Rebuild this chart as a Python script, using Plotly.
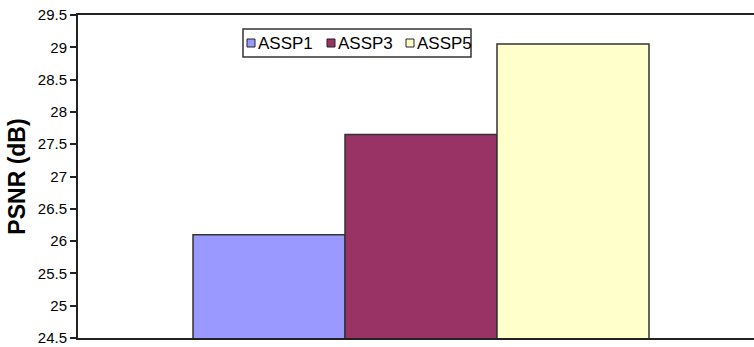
import plotly.graph_objects as go

# PSNR of each ASSP variant
series = ["ASSP1", "ASSP3", "ASSP5"]
psnr_db = [26.1, 27.65, 29.05]
colors = ["#9999FF", "#993366", "#FFFFCC"]
category = [""]

y_ticks = [24.5, 25, 25.5, 26, 26.5, 27, 27.5, 28, 28.5, 29, 29.5]

# plot-area geometry in pixels (used to place the key box)
W, H = 754, 347
L, T, B = 78, 15, 9
PW, PH = W - L, H - T - B


def px(x):
    return (x - L) / PW


def py(y):
    return (H - B - y) / PH


fig = go.Figure()
for name, val, col in zip(series, psnr_db, colors):
    fig.add_trace(go.Bar(
        x=category, y=[val], name=name, showlegend=False,
        marker=dict(color=col, line=dict(color="#333333", width=1.5)),
    ))

# key box with small square swatches
key_x = [247, 327, 406]
shapes = [dict(type="rect", xref="paper", yref="paper",
               x0=px(243), x1=px(471), y0=py(57), y1=py(29),
               line=dict(color="#333333", width=1.5), fillcolor="white")]
annotations = []
for name, col, kx in zip(series, colors, key_x):
    shapes.append(dict(type="rect", xref="paper", yref="paper",
                       x0=px(kx), x1=px(kx + 8), y0=py(47), y1=py(39),
                       line=dict(color="#222222", width=1), fillcolor=col))
    annotations.append(dict(text=name, xref="paper", yref="paper",
                            x=px(kx + 9), y=py(43), xanchor="left", yanchor="middle",
                            showarrow=False, font=dict(size=17, color="black")))

fig.update_layout(
    width=W, height=H,
    margin=dict(l=L, r=0, t=T, b=B),
    plot_bgcolor="white", paper_bgcolor="white",
    barmode="group", bargap=0.3353, bargroupgap=0,
    font=dict(family="Liberation Sans, Arial, sans-serif", size=15, color="black"),
    shapes=shapes, annotations=annotations,
)
fig.update_xaxes(
    range=[-0.5, -0.5 + PW / 686], showticklabels=False, ticks="",
    showline=True, linecolor="#222222", linewidth=2, mirror=True,
    showgrid=False, zeroline=False, fixedrange=True,
)
fig.update_yaxes(
    range=[24.5, 29.5], tickvals=y_ticks,
    ticks="outside", ticklen=6, tickwidth=1.5, tickcolor="#222222",
    showline=True, linecolor="#222222", linewidth=2, mirror=False,
    showgrid=False, zeroline=False,
    title=dict(text="<b>PSNR (dB)</b>", font=dict(size=23), standoff=6),
)

fig.write_html("out.html")
